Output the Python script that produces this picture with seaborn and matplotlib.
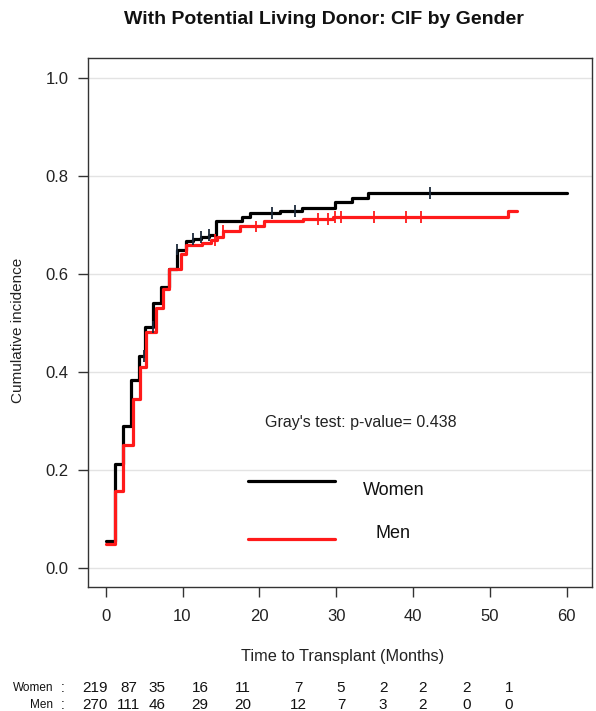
import numpy as np
import pandas as pd
import matplotlib
matplotlib.use("Agg")
import matplotlib.pyplot as plt
import seaborn as sns

# Cumulative incidence step curves (time in months, CIF value)
women_time = [0, 1.2, 2.2, 3.25, 4.3, 5.1, 6.2, 7.2, 8.3, 9.3, 10.4, 11.4, 12.4, 13.5,
              14.4, 17.7, 18.8, 22.7, 25.5, 29.9, 32.0, 34.1, 60.0]
women_cif = [0.054, 0.212, 0.290, 0.384, 0.433, 0.492, 0.540, 0.574, 0.610, 0.650, 0.667,
             0.671, 0.676, 0.680, 0.709, 0.716, 0.724, 0.729, 0.735, 0.748, 0.756, 0.765, 0.765]
men_time = [0, 1.2, 2.3, 3.5, 4.5, 5.3, 6.5, 7.5, 8.3, 9.8, 10.4, 12.5, 13.7, 14.5, 15.3,
            17.5, 20.6, 25.7, 29.6, 52.4, 53.5]
men_cif = [0.048, 0.158, 0.251, 0.344, 0.410, 0.481, 0.530, 0.570, 0.610, 0.640, 0.660,
           0.664, 0.670, 0.676, 0.688, 0.697, 0.708, 0.712, 0.717, 0.729, 0.729]

# Censoring times
women_censor = [5.0, 6.1, 9.3, 11.4, 12.4, 13.5, 21.6, 24.6, 42.2]
men_censor = [14.2, 15.3, 19.6, 27.7, 28.9, 29.9, 30.6, 34.9, 39.1, 41.0]

groups = ["Women", "Men"]
colors = {"Women": "#000000", "Men": "#ff1a1a"}

# Numbers at risk
risk_women = [219, 87, 35, 16, 11, 7, 5, 2, 2, 2, 1]
risk_men = [270, 111, 46, 29, 20, 12, 7, 3, 2, 0, 0]

p_text = "Gray's test: p-value= 0.438"

sns.set_theme(style="white")
plt.rcParams["font.family"] = ["Liberation Sans", "DejaVu Sans"]

curves = pd.concat([
    pd.DataFrame({"time": women_time, "cif": women_cif, "group": "Women"}),
    pd.DataFrame({"time": men_time, "cif": men_cif, "group": "Men"}),
], ignore_index=True)


def step_value(times, vals, t):
    i = np.searchsorted(times, t, side="right") - 1
    return vals[i]


cens = pd.concat([
    pd.DataFrame({"time": women_censor,
                  "cif": [step_value(women_time, women_cif, t) for t in women_censor],
                  "group": "Women"}),
    pd.DataFrame({"time": men_censor,
                  "cif": [step_value(men_time, men_cif, t) for t in men_censor],
                  "group": "Men"}),
], ignore_index=True)

W, H = 596, 711
fig = plt.figure(figsize=(W / 100, H / 100), dpi=100)
ax = fig.add_axes([88 / W, 1 - 587 / H, (592 - 88) / W, (587 - 58) / H])

sns.lineplot(data=curves, x="time", y="cif", hue="group", hue_order=groups,
             palette=colors, drawstyle="steps-post", estimator=None, sort=False,
             linewidth=2.3, legend=False, ax=ax, zorder=3)
tick_colors = {"Women": "#1c2a3a", "Men": "#ff1a1a"}
sns.scatterplot(data=cens, x="time", y="cif", hue="group", hue_order=groups,
                palette=tick_colors, marker="|", s=70, linewidth=1.3,
                legend=False, ax=ax, zorder=4)

ax.set_xlim(-2.3, 63.3)
ax.set_ylim(-0.039, 1.041)
ax.set_xticks(np.arange(0, 61, 10))
ax.set_yticks(np.arange(0, 1.01, 0.2))
ax.set_yticklabels([f"{v:.1f}" for v in np.arange(0, 1.01, 0.2)])
ax.yaxis.grid(True, color="#e3e3e3", linewidth=1.0)
ax.xaxis.grid(False)
ax.set_axisbelow(True)
ax.set_xlabel("")
ax.set_ylabel("")
for sp in ax.spines.values():
    sp.set_color("#333333")
    sp.set_linewidth(1.0)
ax.tick_params(axis="both", which="major", direction="out", length=7, width=1,
               color="#333333", labelsize=12, labelcolor="#222222",
               bottom=True, left=True)
ax.tick_params(axis="y", pad=7)
ax.tick_params(axis="x", pad=9)

# Test result and legend drawn inside the panel
ax.text(20.7, 0.296, p_text, fontsize=11.5, color="#222222", va="center", ha="left")
ax.plot([18.5, 29.8], [0.178, 0.178], color=colors["Women"], linewidth=2.3)
ax.plot([18.5, 29.8], [0.059, 0.059], color=colors["Men"], linewidth=2.3)
ax.text(33.5, 0.159, "Women", fontsize=13, va="center", ha="left", color="#111111")
ax.text(35.1, 0.071, "Men", fontsize=13, va="center", ha="left", color="#111111")

fig.text(324 / W, 1 - 20 / H, "With Potential Living Donor: CIF by Gender",
         fontsize=14, fontweight="bold", ha="center", va="center", color="#111111")
fig.text(18 / W, 1 - 330 / H, "Cumulative incidence", rotation=90, fontsize=11,
         ha="center", va="center", color="#222222")
fig.text(343 / W, 1 - 657 / H, "Time to Transplant (Months)", fontsize=11.7,
         ha="center", va="center", color="#222222")

# Numbers-at-risk table under the axis
col_px = [95, 129, 157, 200, 243, 298, 341, 383, 423, 467, 509]
for label, row, ypx in [("Women", risk_women, 688), ("Men", risk_men, 705)]:
    yy = 1 - ypx / H
    fig.text(53 / W, yy, label, fontsize=8.5, ha="right", va="center", color="#111111")
    fig.text(63 / W, yy, ":", fontsize=10, ha="center", va="center", color="#111111")
    for xp, n in zip(col_px, row):
        fig.text(xp / W, yy, str(n), fontsize=11, ha="center", va="center", color="#111111")

fig.savefig("out.png", dpi=100)
